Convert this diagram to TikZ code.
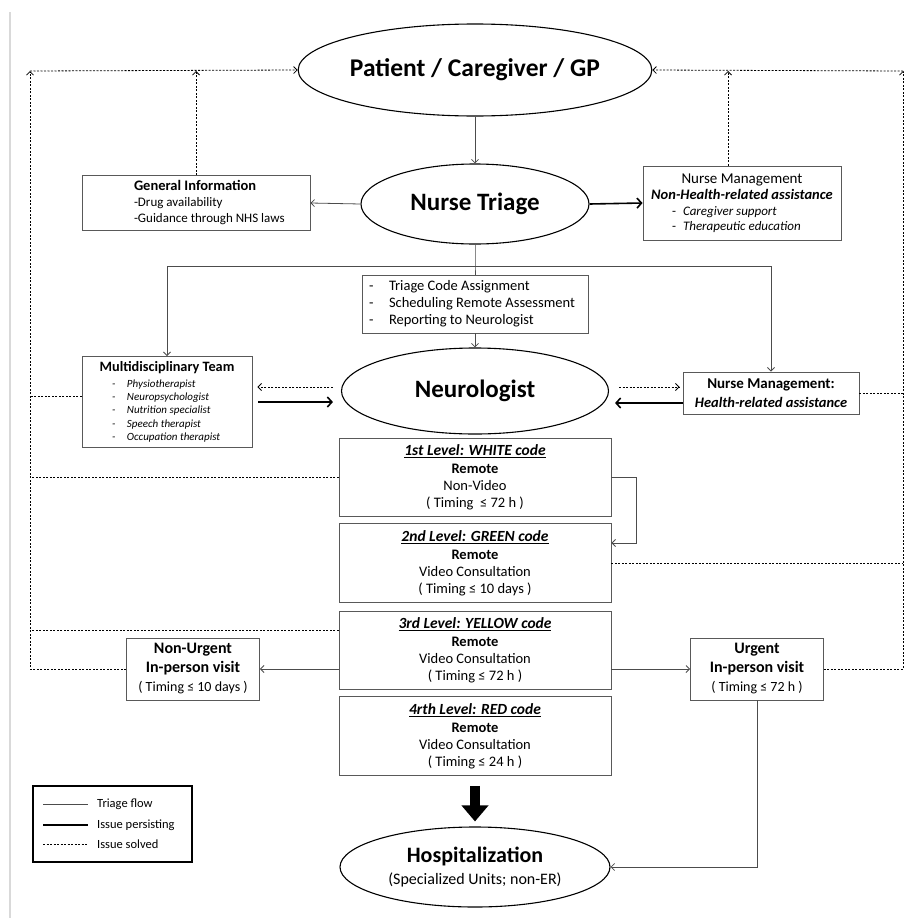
\documentclass[tikz,border=0pt]{standalone}
\usepackage{fontspec}
\setmainfont{Carlito}
\usepackage{tikz}
\usetikzlibrary{shapes.geometric, arrows.meta}
\definecolor{linegray}{gray}{0.3}
\definecolor{boxgray}{gray}{0.35}
\newcommand{\setfs}[2]{\fontsize{#1}{#2}\selectfont}

\begin{document}
\begin{tikzpicture}[x=1pt, y=-1pt, >={Straight Barb[length=3.5pt,width=7pt]},
oval/.style={ellipse, draw, line width=1.1pt, inner sep=0pt},
box/.style={rectangle, draw=boxgray, line width=0.9pt, align=center, inner sep=0pt},
flow/.style={->, draw=linegray, line width=0.8pt},
persist/.style={-{Straight Barb[length=4.5pt,width=10pt]}, line width=1.6pt},
solved/.style={->, dash pattern=on 2pt off 1.5pt, line width=0.8pt}]
  \useasboundingbox (0,0) rectangle (904,918);
  \draw[black!15, line width=1.5pt] (10,12) -- (10,918);

  % ovals down the middle
  \node[oval, minimum width=274, minimum height=92] (pcg) at (475,70)
    {\setfs{25.5}{30}\bfseries Patient / Caregiver / GP};
  \node[oval, minimum width=228, minimum height=80] (triage) at (475,204)
    {\setfs{25}{30}\bfseries Nurse Triage};
  \node[oval, minimum width=267, minimum height=86] (neuro) at (475,391)
    {\setfs{25}{30}\bfseries Neurologist};
  \node[oval, minimum width=270, minimum height=80, align=center, font=\setfs{16}{22}] (hosp) at (475,867)
    {{\setfs{22}{26}\bfseries Hospitalization}\\(Specialized Units; non-ER)};

  % side boxes
  \node[box, minimum width=228, minimum height=55, font=\setfs{13}{16}] (gi) at (196,203)
    {\makebox[124pt][l]{\setfs{14.5}{16}\bfseries General Information}\\
     \makebox[124pt][l]{-Drug availability}\\
     \makebox[124pt][l]{-Guidance through NHS laws}};
  \node[box, minimum width=198, minimum height=74, font=\setfs{13}{15.5}] (nmn) at (742,203)
    {{\setfs{15}{17}Nurse Management}\\[1pt]
     {\setfs{14.5}{17}\bfseries\itshape Non-Health-related assistance}\\
     \makebox[140pt][l]{\makebox[11pt][l]{-}\textit{Caregiver support}}\\
     \makebox[140pt][l]{\makebox[11pt][l]{-}\textit{Therapeutic education}}};
  \node[box, minimum width=226, minimum height=58, font=\setfs{14.5}{17}] (code) at (475,304)
    {\makebox[212pt][l]{\makebox[20pt][l]{-}Triage Code Assignment}\\
     \makebox[212pt][l]{\makebox[20pt][l]{-}Scheduling Remote Assessment}\\
     \makebox[212pt][l]{\makebox[20pt][l]{-}Reporting to Neurologist}};
  \node[box, minimum width=170, minimum height=91, font=\setfs{11}{13.3}\itshape] (md) at (167,402)
    {{\setfs{14.3}{16}\bfseries\upshape Multidisciplinary Team}\\[2pt]
     \makebox[110pt][l]{\makebox[15pt][l]{-}Physiotherapist}\\
     \makebox[110pt][l]{\makebox[15pt][l]{-}Neuropsychologist}\\
     \makebox[110pt][l]{\makebox[15pt][l]{-}Nutrition specialist}\\
     \makebox[110pt][l]{\makebox[15pt][l]{-}Speech therapist}\\
     \makebox[110pt][l]{\makebox[15pt][l]{-}Occupation therapist}};
  \node[box, minimum width=176, minimum height=42, font=\setfs{15}{19}\bfseries] (nmh) at (771,393)
    {Nurse Management:\\{\setfs{14.5}{19}\itshape Health-related assistance}};

  % triage levels
  \node[box, minimum width=272, minimum height=78, font=\setfs{14.5}{17}] (l1) at (475,477)
    {{\setfs{15.5}{17}\bfseries\itshape\underline{1st Level: WHITE code}}\\[1pt]
     \textbf{Remote}\\Non-Video\\( Timing ~≤ 72 h )};
  \node[box, minimum width=272, minimum height=79, font=\setfs{14.5}{17}] (l2) at (475,563)
    {{\setfs{15.5}{17}\bfseries\itshape\underline{2nd Level: GREEN code}}\\[1pt]
     \textbf{Remote}\\Video Consultation\\( Timing ≤ 10 days )};
  \node[box, minimum width=272, minimum height=78, font=\setfs{14.5}{17}] (l3) at (475,650)
    {{\setfs{15.5}{17}\bfseries\itshape\underline{3rd Level: YELLOW code}}\\[1pt]
     \textbf{Remote}\\Video Consultation\\( Timing ≤ 72 h )};
  \node[box, minimum width=272, minimum height=79, font=\setfs{14.5}{17}] (l4) at (475,736)
    {{\setfs{15.5}{17}\bfseries\itshape\underline{4rth Level: RED code}}\\[1pt]
     \textbf{Remote}\\Video Consultation\\( Timing ≤ 24 h )};

  % in-person visits
  \node[box, minimum width=133, minimum height=62, font=\setfs{16}{19}] (nonurg) at (193,669)
    {\textbf{Non-Urgent}\\\textbf{In-person visit}\\{\setfs{14}{17}( Timing ≤ 10 days )}};
  \node[box, minimum width=133, minimum height=62, font=\setfs{16}{19}] (urg) at (757,669)
    {\textbf{Urgent}\\\textbf{In-person visit}\\{\setfs{14}{17}( Timing ≤ 72 h )}};

  % corners of the return lines
  \coordinate (lc) at (30,71);
  \coordinate (rc) at (903,71);
  \coordinate (split) at (475,266);

  % triage flow
  \draw[flow] (pcg) -- (triage);
  \draw[flow] (triage.west) -- (gi.east);
  \draw[flow, -] (triage.south) -- (split) -- (code.north);
  \foreach \to in {md,nmh}
    \draw[flow] (split) -| (\to.north);
  \draw[flow] (code.south) -- (neuro.north);
  \draw[flow] (l1.east) -- ++(25,0) |- ([yshift=20pt]l2.east);
  \draw[flow] (l3.west |- nonurg) -- (nonurg.east);
  \draw[flow] (l3.east |- urg) -- (urg.west);
  \draw[flow] (urg.south) |- (hosp.east);

  % issue persisting
  \draw[persist] (triage.east) -- (nmn.west);
  \draw[persist, shorten <=6pt, shorten >=8pt] (md.east) -- (md.east -| neuro.west);
  \draw[persist, shorten >=6pt] ([yshift=-10pt]nmh.west) -- ([yshift=-10pt]nmh.west -| neuro.east);
  \draw[-{Triangle[width=26pt,length=16pt]}, line width=10pt, shorten <=10pt, shorten >=5pt]
    (l4.south) -- (hosp.north);

  % issue solved
  \draw[solved, shorten <=8pt, shorten >=5pt] ([yshift=4pt]neuro.west) -- ([yshift=4pt]neuro.west -| md.east);
  \draw[solved, shorten <=10pt, shorten >=3pt] ([yshift=4pt]neuro.east) -- ([yshift=4pt]neuro.east -| nmh.west);
  \draw[solved] (nonurg.west) -| (lc);
  \draw[solved] (urg.east) -| (rc);
  \draw[solved] (lc) -- (pcg.west);
  \draw[solved] (rc) -- (pcg.east);
  \draw[solved] (gi.north) -- (gi.north |- lc);
  \draw[solved] ([xshift=-14pt]nmn.north) -- ([xshift=-14pt]nmn.north |- rc);
  \draw[solved, -] ([yshift=6pt]md.west) -- ([yshift=6pt]md.west -| lc);
  \draw[solved, -] (l1.west) -- (l1.west -| lc);
  \draw[solved, -] ([yshift=20pt]l3.west) -- ([yshift=20pt]l3.west -| lc);
  \draw[solved, -] (nmh.east) -- (nmh.east -| rc);
  \draw[solved, -] (l2.east) -- (l2.east -| rc);

  % legend
  \node[rectangle, draw, line width=1.4pt, minimum width=159, minimum height=76] (legend) at (112.5,824) {};
  \foreach \y/\sty/\txt in {804/flow/Triage flow, 825/persist/Issue persisting, 844/solved/Issue solved} {
    \node[anchor=west, inner sep=0pt, font=\setfs{12.5}{15}] (leg\y) at (97,\y) {\txt};
    \draw[\sty, -] (43,\y) -- (88,\y);
  }
\end{tikzpicture}
\end{document}
